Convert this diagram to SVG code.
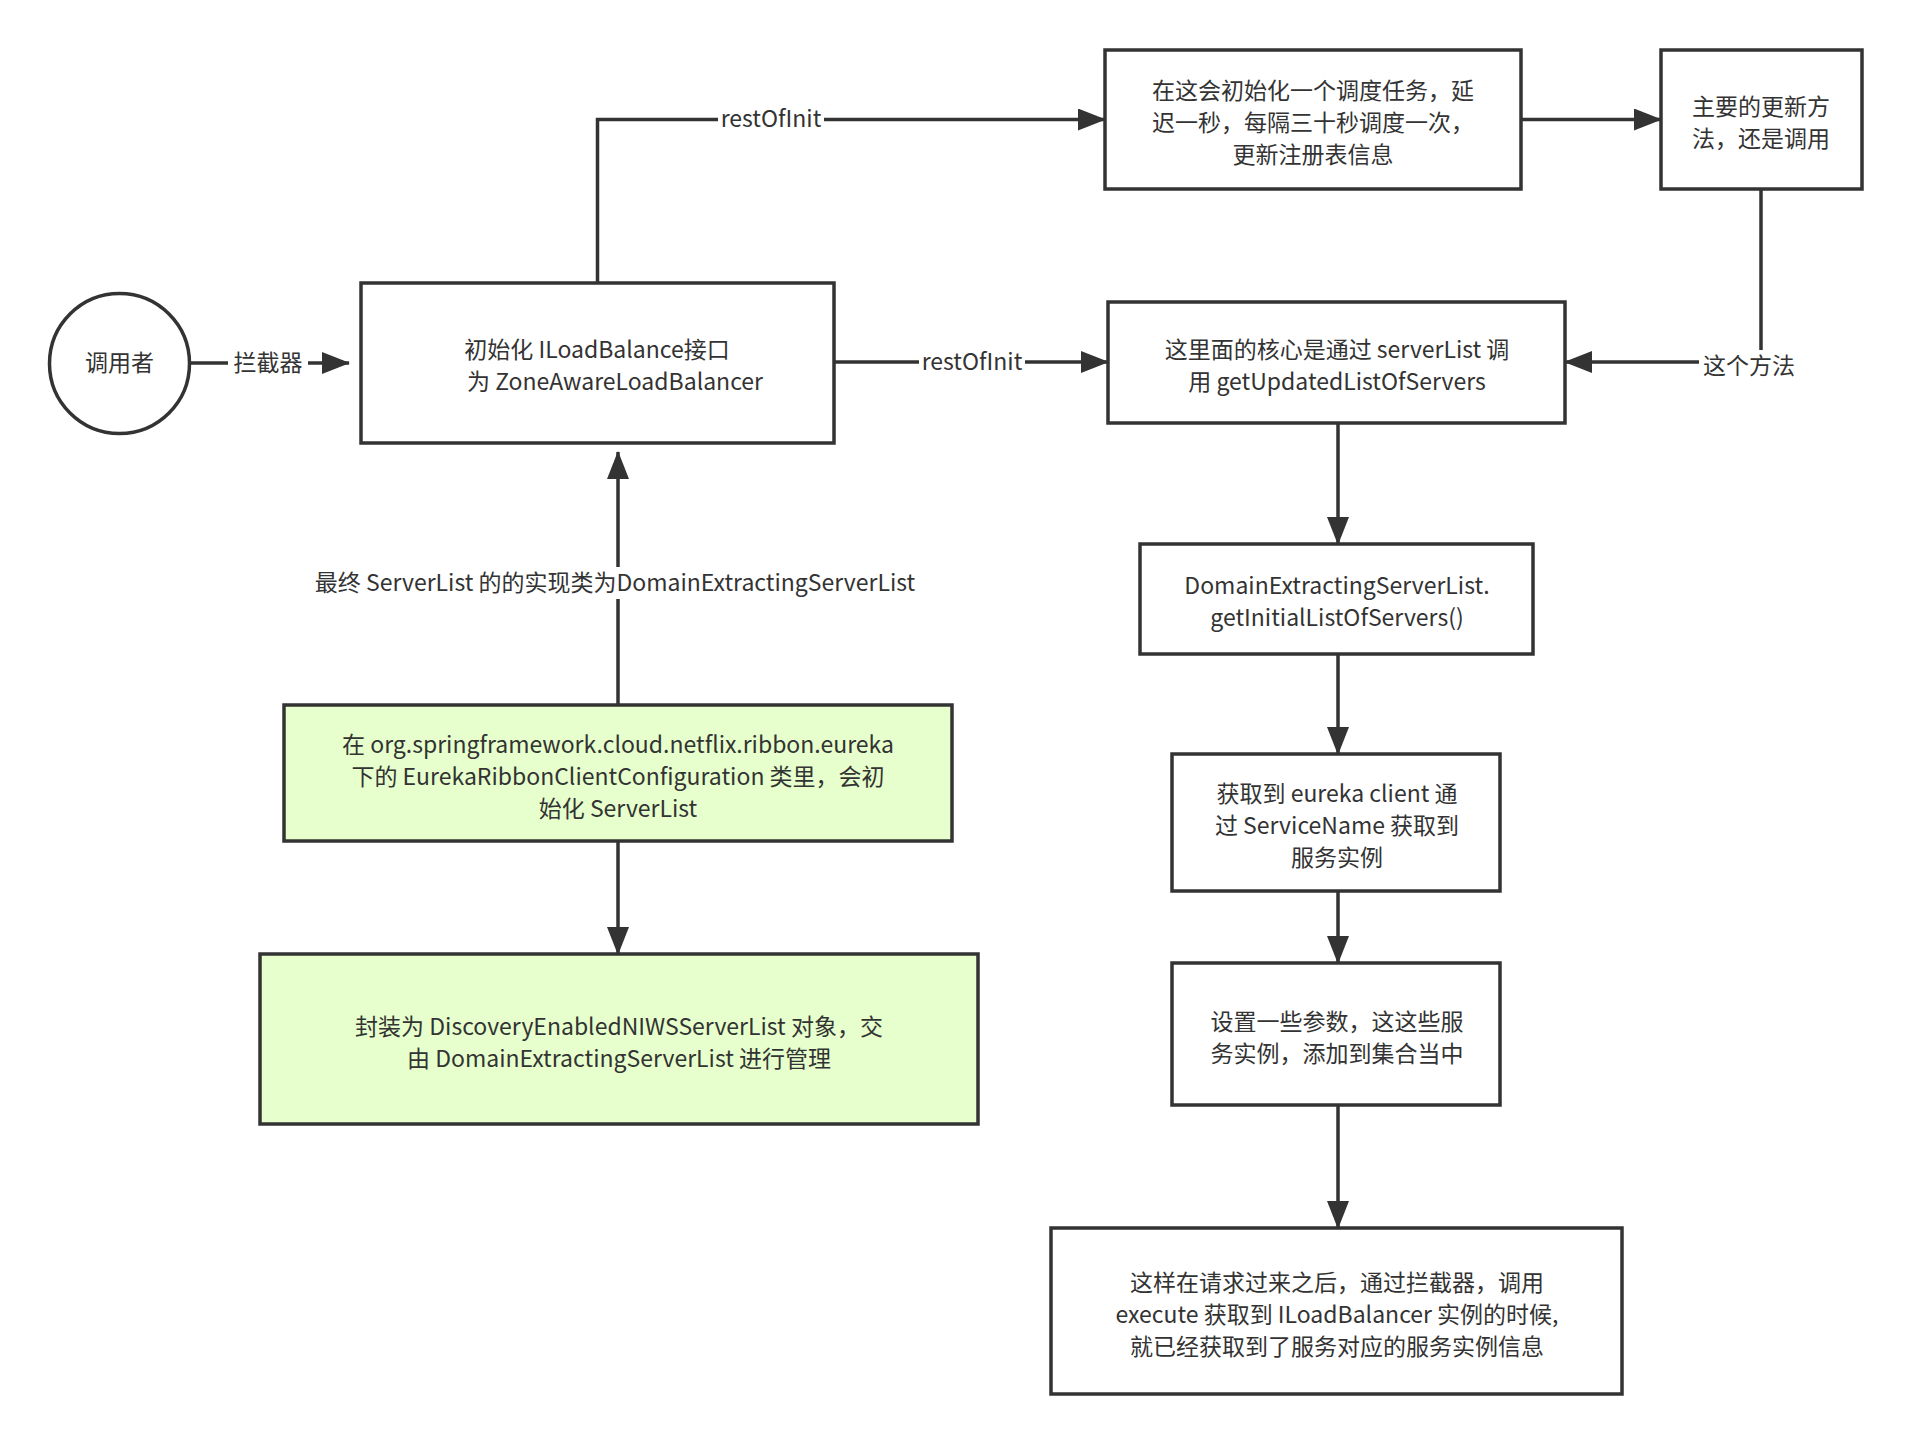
<svg xmlns="http://www.w3.org/2000/svg" width="1912" height="1445" viewBox="0 0 1912 1445">
<style>
.b{fill:#fff;stroke:#333;stroke-width:3.5}
.g{fill:#e6ffcc;stroke:#333;stroke-width:3.5}
.l{fill:none;stroke:#333;stroke-width:3.5}
text{font-family:"Noto Sans CJK SC","Liberation Sans",sans-serif;font-size:23px;fill:#333;text-anchor:middle}
.lb{fill:#fff;stroke:none}
</style>
<defs><marker id="a" markerWidth="10" markerHeight="10" refX="9" refY="5" orient="auto" markerUnits="userSpaceOnUse" viewBox="0 0 10 10"><path d="M0,0L10,5L0,10z" fill="#333"/></marker>
<marker id="ah" markerWidth="28" markerHeight="22" refX="27" refY="11" orient="auto" markerUnits="userSpaceOnUse" viewBox="0 0 28 22"><path d="M0,0L28,11L0,22z" fill="#333"/></marker></defs>
<rect width="1912" height="1445" fill="#fff"/>
<g id="connectors">
<path class="l" d="M190,363H349" marker-end="url(#ah)"/>
<rect class="lb" x="228" y="348" width="80" height="30"/><text x="268" y="371">拦截器</text>
<path class="l" d="M597.5,283V119.5H1105" marker-end="url(#ah)"/>
<rect class="lb" x="718" y="104" width="106" height="30"/><text x="771" y="127">restOfInit</text>
<path class="l" d="M834,362H1108" marker-end="url(#ah)"/>
<rect class="lb" x="919" y="347" width="106" height="30"/><text x="972" y="370">restOfInit</text>
<path class="l" d="M1521,119.5H1661" marker-end="url(#ah)"/>
<path class="l" d="M1761,189V362H1565" marker-end="url(#ah)"/>
<rect class="lb" x="1699" y="350" width="100" height="32"/><text x="1749" y="374">这个方法</text>
<path class="l" d="M1338,423V544" marker-end="url(#ah)"/>
<path class="l" d="M1338,654V754" marker-end="url(#ah)"/>
<path class="l" d="M1338,891V963" marker-end="url(#ah)"/>
<path class="l" d="M1338,1105V1228" marker-end="url(#ah)"/>
<path class="l" d="M618,705V452" marker-end="url(#ah)"/>
<rect class="lb" x="270" y="567" width="690" height="32"/><text x="615" y="591">最终 ServerList 的的实现类为DomainExtractingServerList</text>
<path class="l" d="M618,841V954" marker-end="url(#ah)"/>
</g>
<g id="caller"><circle class="b" cx="119.5" cy="363.4" r="70"/><text x="119.5" y="371">调用者</text></g>
<g id="init"><rect class="b" x="361" y="283" width="473" height="160"/><text x="597" y="358">初始化 ILoadBalance接口</text><text x="615" y="390">为  ZoneAwareLoadBalancer</text></g>
<g id="sched"><rect class="b" x="1105" y="50" width="416" height="139"/><text x="1313" y="99">在这会初始化一个调度任务，延</text><text x="1313" y="131">迟一秒，每隔三十秒调度一次，</text><text x="1313" y="163">更新注册表信息</text></g>
<g id="update"><rect class="b" x="1661" y="50" width="201" height="139"/><text x="1761" y="115">主要的更新方</text><text x="1761" y="147">法，还是调用</text></g>
<g id="core"><rect class="b" x="1108" y="302" width="457" height="121"/><text x="1337" y="358">这里面的核心是通过 serverList 调</text><text x="1337" y="390">用 getUpdatedListOfServers</text></g>
<g id="domain"><rect class="b" x="1140" y="544" width="393" height="110"/><text x="1337" y="594">DomainExtractingServerList.</text><text x="1337" y="626">getInitialListOfServers()</text></g>
<g id="eureka"><rect class="b" x="1172" y="754" width="328" height="137"/><text x="1337" y="802">获取到 eureka client 通</text><text x="1337" y="834">过 ServiceName 获取到</text><text x="1337" y="866">服务实例</text></g>
<g id="params"><rect class="b" x="1172" y="963" width="328" height="142"/><text x="1337" y="1030">设置一些参数，这这些服</text><text x="1337" y="1062">务实例，添加到集合当中</text></g>
<g id="final"><rect class="b" x="1051" y="1228" width="571" height="166"/><text x="1337" y="1291">这样在请求过来之后，通过拦截器，调用</text><text x="1337" y="1323">execute 获取到 ILoadBalancer 实例的时候,</text><text x="1337" y="1355">就已经获取到了服务对应的服务实例信息</text></g>
<g id="config"><rect class="g" x="284" y="705" width="668" height="136"/><text x="618" y="753">在 org.springframework.cloud.netflix.ribbon.eureka</text><text x="618" y="785">下的 EurekaRibbonClientConfiguration 类里，会初</text><text x="618" y="817">始化 ServerList</text></g>
<g id="wrap"><rect class="g" x="260" y="954" width="718" height="170"/><text x="619" y="1035">封装为 DiscoveryEnabledNIWSServerList 对象，交</text><text x="619" y="1067">由 DomainExtractingServerList 进行管理</text></g>
</svg>
